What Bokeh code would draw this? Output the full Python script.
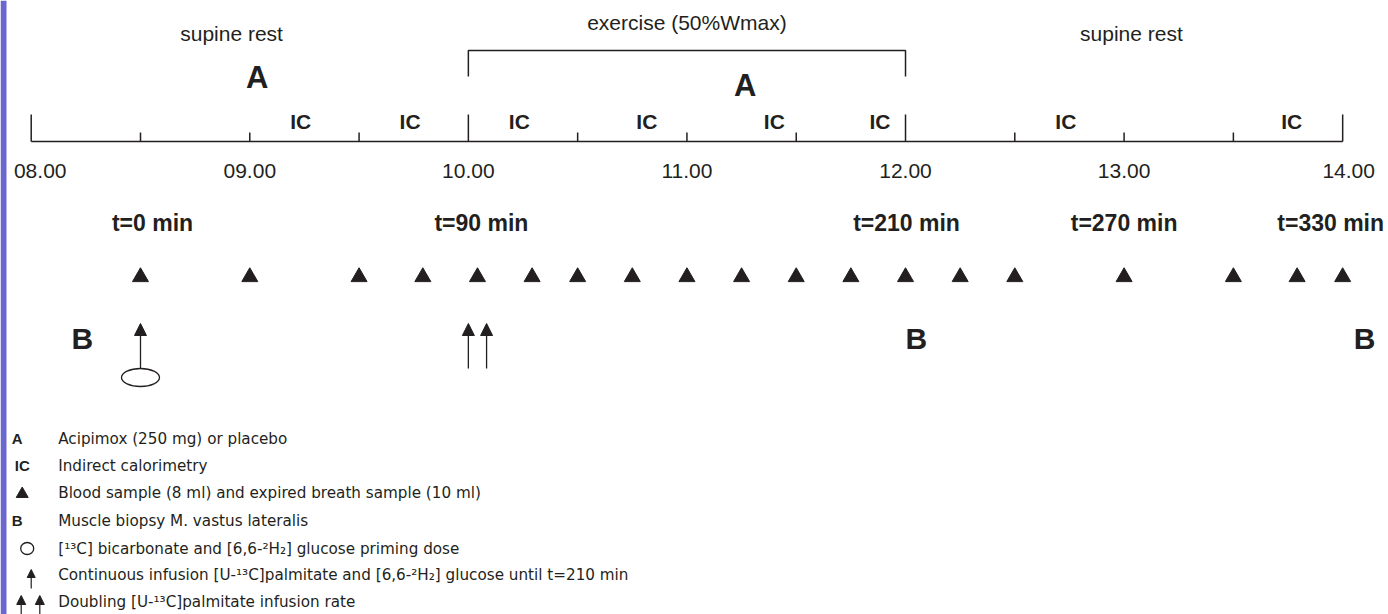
from bokeh.plotting import figure
from bokeh.models import Range1d, ColumnDataSource, Arrow, NormalHead
from bokeh.core.properties import value
from bokeh.embed import file_html
from bokeh.resources import INLINE

# ---------------- data (minutes) ----------------
hour_labels = ["08.00", "09.00", "10.00", "11.00", "12.00", "13.00", "14.00"]
hour_minutes = [0, 60, 120, 180, 240, 300, 360]          # minutes after 08.00
minor_ticks = [30, 60, 90, 150, 180, 210, 270, 300, 330]
major_ticks = [0, 120, 240, 360]
exercise_window = [120, 240]                              # 10.00 - 12.00
T0 = 30                                                   # t = 0 min at 08.30

milestone_t = [0, 90, 210, 270, 330]
milestone_labels = ["t=0 min", "t=90 min", "t=210 min", "t=270 min", "t=330 min"]
sample_t = [0, 30, 60, 77.5, 92.5, 107.5, 120, 135, 150, 165, 180, 195,
            210, 225, 240, 270, 300, 317.5, 330]           # blood / breath samples
ic_t = [44, 74, 104, 139, 174, 203, 254, 316]             # indirect calorimetry
acipimox_t = [32, 166]                                    # "A" markers
biopsy_t = [-16, 213, 336]                                # "B" markers
priming_t = [0]                                           # priming dose (ellipse)
infusion_t = [0]                                          # continuous infusion start
doubling_t = [90, 95]                                     # doubling palmitate rate

phase_labels = ["supine rest", "exercise (50%Wmax)", "supine rest"]
phase_clock = [55, 180, 302]                              # minutes after 08.00

legend_texts = [
    "Acipimox (250 mg) or placebo",
    "Indirect calorimetry",
    "Blood sample (8 ml) and expired breath sample (10 ml)",
    "Muscle biopsy M. vastus lateralis",
    "[\u00b9\u00b3C] bicarbonate and [6,6-\u00b2H\u2082] glucose priming dose",
    "Continuous infusion [U-\u00b9\u00b3C]palmitate and [6,6-\u00b2H\u2082] glucose until t=210 min",
    "Doubling [U-\u00b9\u00b3C]palmitate infusion rate",
]

# ---------------- style / layout ----------------
INK = "#231f20"
FONT = value("Liberation Sans")
LFONT = value("DejaVu Sans")
W, H = 1388, 614
X0, X1 = -8.43, 372.58
PX = W / (X1 - X0)          # pixels per minute


def off(px):
    return px / PX


p = figure(width=W, height=H, x_range=Range1d(X0, X1), y_range=Range1d(614, 0),
           toolbar_location=None, output_backend="svg", min_border=0,
           x_axis_location=None, y_axis_location=None, outline_line_color=None)
p.grid.visible = False
p.background_fill_color = "white"

# left border strip
p.quad(left=[X0], right=[X0 + off(6)], bottom=[614], top=[0],
       fill_color="#6a67ce", line_color=None)

# ---- timeline axis ----
AXIS_Y = 141
p.segment(x0=[hour_minutes[0]], y0=[AXIS_Y], x1=[hour_minutes[-1]], y1=[AXIS_Y],
          line_color=INK, line_width=1.5)
p.segment(x0=minor_ticks, y0=[AXIS_Y] * len(minor_ticks), x1=minor_ticks,
          y1=[132] * len(minor_ticks), line_color=INK, line_width=1.5)
p.segment(x0=major_ticks, y0=[AXIS_Y] * len(major_ticks), x1=major_ticks,
          y1=[114] * len(major_ticks), line_color=INK, line_width=1.5)
p.text(x=hour_minutes, y=[170] * len(hour_minutes), text=hour_labels,
       x_offset=[9, 0, 0, 0, 0, 0, 6],
       text_font=FONT, text_font_size="21px", text_color=INK,
       text_align="center", text_baseline="middle")

# ---- exercise bracket ----
ex0, ex1 = exercise_window
p.line(x=[ex0, ex0, ex1, ex1], y=[76, 50, 50, 76], line_color=INK, line_width=1.5)

# ---- phase labels ----
p.text(x=phase_clock, y=[33, 22, 33], text=phase_labels, text_font=FONT,
       text_font_size="21px", text_color=INK, text_align="center",
       text_baseline="middle")

# ---- A labels ----
p.text(x=[t + T0 for t in acipimox_t], y=[77, 85], text=["A", "A"], text_font=FONT,
       text_font_style="bold", text_font_size="31px", text_color=INK,
       text_align="center", text_baseline="middle")

# ---- IC labels ----
p.text(x=[t + T0 for t in ic_t], y=[121] * len(ic_t), text=["IC"] * len(ic_t),
       text_font=FONT, text_font_style="bold", text_font_size="21px",
       text_color=INK, text_align="center", text_baseline="middle")

# ---- milestone labels ----
m_off = [12, 13, 1, 0, -12]
p.text(x=[t + T0 for t in milestone_t], y=[222] * len(milestone_t),
       text=milestone_labels, x_offset=m_off, text_font=FONT,
       text_font_style="bold", text_font_size="23px", text_color=INK,
       text_align="center", text_baseline="middle")

# ---- blood samples ----
p.scatter(x=[t + T0 for t in sample_t], y=[276.5] * len(sample_t),
          marker="triangle", size=16, fill_color=INK, line_color=INK)

# ---- biopsies ----
p.text(x=[t + T0 for t in biopsy_t], y=[338] * len(biopsy_t), text=["B"] * len(biopsy_t),
       text_font=FONT, text_font_style="bold", text_font_size="30px",
       text_color=INK, text_align="center", text_baseline="middle")

# ---- infusion arrows & priming ellipse ----
arr_src = ColumnDataSource(dict(x=[t + T0 for t in infusion_t + doubling_t]))
p.add_layout(Arrow(end=NormalHead(size=12, fill_color=INK, line_color=INK, line_width=1),
                   x_start="x", y_start=368, x_end="x", y_end=323, source=arr_src,
                   line_color=INK, line_width=1.3))
p.ellipse(x=[t + T0 for t in priming_t], y=[377], width=38, height=18,
          width_units="screen", height_units="screen", fill_color="white",
          line_color=INK, line_width=1.3)

# ---- legend ----
LX = hour_minutes[0]
rows_y = [438, 465, 492.5, 520, 548, 574.5, 601]
p.text(x=[LX] * 7, y=rows_y, text=legend_texts, x_offset=27, text_font=LFONT,
       text_font_size="15.2px", text_color=INK, text_align="left",
       text_baseline="middle")
p.text(x=[LX, LX, LX], y=[rows_y[0], rows_y[1], rows_y[3]], text=["A", "IC", "B"],
       x_offset=[-14, -9, -14], text_font=FONT, text_font_style="bold",
       text_font_size="15px", text_color=INK, text_align="center",
       text_baseline="middle")
p.scatter(x=[LX + off(-9)], y=[rows_y[2] + 1], marker="triangle", size=12,
          fill_color=INK, line_color=INK)
p.ellipse(x=[LX + off(-4)], y=[rows_y[4]], width=13, height=12, width_units="screen",
          height_units="screen", fill_color="white", line_color=INK, line_width=1.3)
leg_arr = ColumnDataSource(dict(x=[LX + off(0)], y0=[588], y1=[569]))
p.add_layout(Arrow(end=NormalHead(size=8, fill_color=INK, line_color=INK, line_width=1),
                   x_start="x", y_start="y0", x_end="x", y_end="y1", source=leg_arr,
                   line_color=INK, line_width=1.2))
leg_arr2 = ColumnDataSource(dict(x=[LX + off(-10), LX + off(8.6)], y0=[614, 614],
                                 y1=[595, 595]))
p.add_layout(Arrow(end=NormalHead(size=9, fill_color=INK, line_color=INK, line_width=1),
                   x_start="x", y_start="y0", x_end="x", y_end="y1", source=leg_arr2,
                   line_color=INK, line_width=1.2))

open("out.html", "w").write(file_html(p, INLINE))
